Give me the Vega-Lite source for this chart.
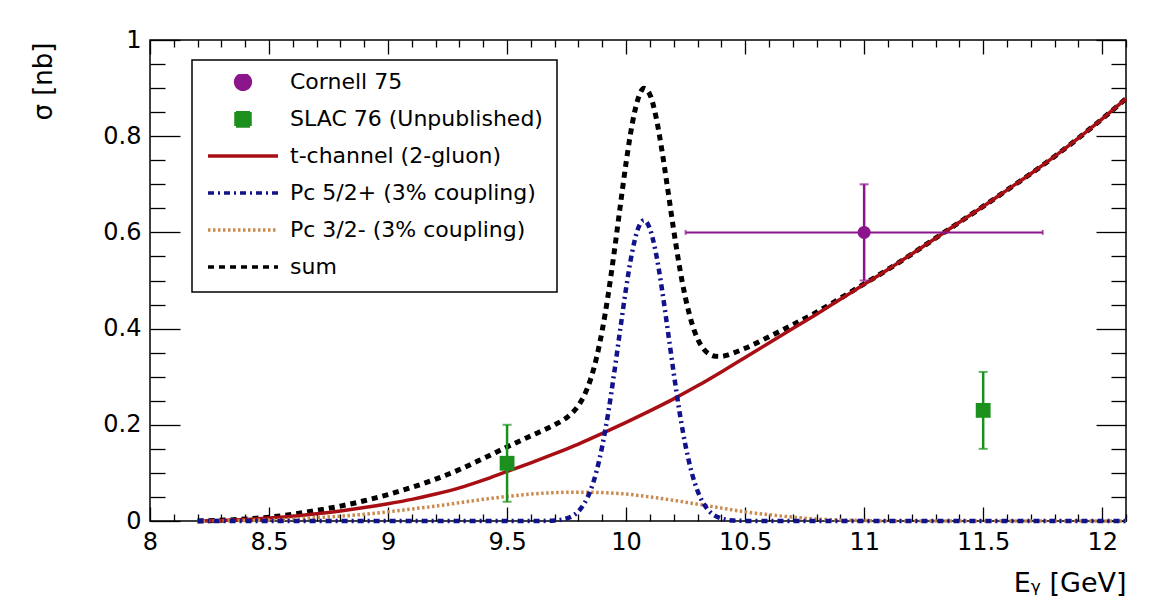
{
  "$schema": "https://vega.github.io/schema/vega-lite/v6.json",
  "width": 976,
  "height": 481,
  "autosize": {"type": "none"},
  "padding": {"left": 150, "top": 40, "right": 26, "bottom": 92},
  "background": "white",
  "config": {
    "font": "DejaVu Sans",
    "view": {"stroke": "black", "strokeWidth": 1.5},
    "axis": {
      "grid": false,
      "domain": false,
      "labelFont": "DejaVu Sans",
      "labelFontSize": 24,
      "labelColor": "black",
      "labelFlush": false,
      "labelOverlap": false,
      "tickColor": "black",
      "tickWidth": 1.3,
      "titleFont": "DejaVu Sans",
      "titleFontSize": 26,
      "titleFontWeight": "normal",
      "titleColor": "black"
    }
  },
  "resolve": {"axis": {"x": "independent", "y": "independent"}},
  "datasets": {
    "points": [
      {"series": "Cornell 75", "E": 11.0, "sigma": 0.60, "ylo": 0.50, "yhi": 0.70, "xlo": 10.25, "xhi": 11.75},
      {"series": "SLAC 76 (Unpublished)", "E": 9.5, "sigma": 0.12, "ylo": 0.04, "yhi": 0.20},
      {"series": "SLAC 76 (Unpublished)", "E": 11.5, "sigma": 0.23, "ylo": 0.15, "yhi": 0.31}
    ],
    "tchannel": [
      {"series": "t-channel (2-gluon)", "E": 8.2, "sigma": 0.000},
      {"series": "t-channel (2-gluon)", "E": 8.3, "sigma": 0.001},
      {"series": "t-channel (2-gluon)", "E": 8.4, "sigma": 0.003},
      {"series": "t-channel (2-gluon)", "E": 8.5, "sigma": 0.006},
      {"series": "t-channel (2-gluon)", "E": 8.6, "sigma": 0.010},
      {"series": "t-channel (2-gluon)", "E": 8.7, "sigma": 0.015},
      {"series": "t-channel (2-gluon)", "E": 8.8, "sigma": 0.021},
      {"series": "t-channel (2-gluon)", "E": 8.9, "sigma": 0.028},
      {"series": "t-channel (2-gluon)", "E": 9.0, "sigma": 0.036},
      {"series": "t-channel (2-gluon)", "E": 9.1, "sigma": 0.045},
      {"series": "t-channel (2-gluon)", "E": 9.2, "sigma": 0.056},
      {"series": "t-channel (2-gluon)", "E": 9.3, "sigma": 0.069},
      {"series": "t-channel (2-gluon)", "E": 9.4, "sigma": 0.085},
      {"series": "t-channel (2-gluon)", "E": 9.5, "sigma": 0.103},
      {"series": "t-channel (2-gluon)", "E": 9.6, "sigma": 0.121},
      {"series": "t-channel (2-gluon)", "E": 9.7, "sigma": 0.140},
      {"series": "t-channel (2-gluon)", "E": 9.8, "sigma": 0.160},
      {"series": "t-channel (2-gluon)", "E": 9.9, "sigma": 0.182},
      {"series": "t-channel (2-gluon)", "E": 10.0, "sigma": 0.205},
      {"series": "t-channel (2-gluon)", "E": 10.1, "sigma": 0.229},
      {"series": "t-channel (2-gluon)", "E": 10.2, "sigma": 0.254},
      {"series": "t-channel (2-gluon)", "E": 10.3, "sigma": 0.281},
      {"series": "t-channel (2-gluon)", "E": 10.4, "sigma": 0.310},
      {"series": "t-channel (2-gluon)", "E": 10.5, "sigma": 0.340},
      {"series": "t-channel (2-gluon)", "E": 10.6, "sigma": 0.370},
      {"series": "t-channel (2-gluon)", "E": 10.7, "sigma": 0.400},
      {"series": "t-channel (2-gluon)", "E": 10.8, "sigma": 0.430},
      {"series": "t-channel (2-gluon)", "E": 10.9, "sigma": 0.461},
      {"series": "t-channel (2-gluon)", "E": 11.0, "sigma": 0.492},
      {"series": "t-channel (2-gluon)", "E": 11.1, "sigma": 0.523},
      {"series": "t-channel (2-gluon)", "E": 11.2, "sigma": 0.555},
      {"series": "t-channel (2-gluon)", "E": 11.3, "sigma": 0.588},
      {"series": "t-channel (2-gluon)", "E": 11.4, "sigma": 0.621},
      {"series": "t-channel (2-gluon)", "E": 11.5, "sigma": 0.654},
      {"series": "t-channel (2-gluon)", "E": 11.6, "sigma": 0.688},
      {"series": "t-channel (2-gluon)", "E": 11.7, "sigma": 0.722},
      {"series": "t-channel (2-gluon)", "E": 11.8, "sigma": 0.758},
      {"series": "t-channel (2-gluon)", "E": 11.9, "sigma": 0.796},
      {"series": "t-channel (2-gluon)", "E": 12.0, "sigma": 0.836},
      {"series": "t-channel (2-gluon)", "E": 12.1, "sigma": 0.878}
    ],
    "pc32": [
      {"series": "Pc 3/2- (3% coupling)", "E": 8.2, "sigma": 0.0},
      {"series": "Pc 3/2- (3% coupling)", "E": 8.3, "sigma": 0.0005},
      {"series": "Pc 3/2- (3% coupling)", "E": 8.4, "sigma": 0.001},
      {"series": "Pc 3/2- (3% coupling)", "E": 8.5, "sigma": 0.002},
      {"series": "Pc 3/2- (3% coupling)", "E": 8.6, "sigma": 0.004},
      {"series": "Pc 3/2- (3% coupling)", "E": 8.7, "sigma": 0.007},
      {"series": "Pc 3/2- (3% coupling)", "E": 8.8, "sigma": 0.010},
      {"series": "Pc 3/2- (3% coupling)", "E": 8.9, "sigma": 0.014},
      {"series": "Pc 3/2- (3% coupling)", "E": 9.0, "sigma": 0.019},
      {"series": "Pc 3/2- (3% coupling)", "E": 9.1, "sigma": 0.025},
      {"series": "Pc 3/2- (3% coupling)", "E": 9.2, "sigma": 0.031},
      {"series": "Pc 3/2- (3% coupling)", "E": 9.3, "sigma": 0.038},
      {"series": "Pc 3/2- (3% coupling)", "E": 9.4, "sigma": 0.045},
      {"series": "Pc 3/2- (3% coupling)", "E": 9.5, "sigma": 0.051},
      {"series": "Pc 3/2- (3% coupling)", "E": 9.6, "sigma": 0.056},
      {"series": "Pc 3/2- (3% coupling)", "E": 9.7, "sigma": 0.059},
      {"series": "Pc 3/2- (3% coupling)", "E": 9.8, "sigma": 0.060},
      {"series": "Pc 3/2- (3% coupling)", "E": 9.9, "sigma": 0.059},
      {"series": "Pc 3/2- (3% coupling)", "E": 10.0, "sigma": 0.056},
      {"series": "Pc 3/2- (3% coupling)", "E": 10.1, "sigma": 0.050},
      {"series": "Pc 3/2- (3% coupling)", "E": 10.2, "sigma": 0.043},
      {"series": "Pc 3/2- (3% coupling)", "E": 10.3, "sigma": 0.035},
      {"series": "Pc 3/2- (3% coupling)", "E": 10.4, "sigma": 0.027},
      {"series": "Pc 3/2- (3% coupling)", "E": 10.5, "sigma": 0.019},
      {"series": "Pc 3/2- (3% coupling)", "E": 10.6, "sigma": 0.013},
      {"series": "Pc 3/2- (3% coupling)", "E": 10.7, "sigma": 0.008},
      {"series": "Pc 3/2- (3% coupling)", "E": 10.8, "sigma": 0.004},
      {"series": "Pc 3/2- (3% coupling)", "E": 10.9, "sigma": 0.002},
      {"series": "Pc 3/2- (3% coupling)", "E": 11.0, "sigma": 0.001},
      {"series": "Pc 3/2- (3% coupling)", "E": 11.1, "sigma": 0.0},
      {"series": "Pc 3/2- (3% coupling)", "E": 11.6, "sigma": 0.0},
      {"series": "Pc 3/2- (3% coupling)", "E": 12.1, "sigma": 0.0}
    ],
    "pc52": [
      {"series": "Pc 5/2+ (3% coupling)", "E": 8.2, "sigma": 0.0},
      {"series": "Pc 5/2+ (3% coupling)", "E": 9.0, "sigma": 0.0},
      {"series": "Pc 5/2+ (3% coupling)", "E": 9.6, "sigma": 0.0},
      {"series": "Pc 5/2+ (3% coupling)", "E": 9.675, "sigma": 0.0004},
      {"series": "Pc 5/2+ (3% coupling)", "E": 9.7, "sigma": 0.0011},
      {"series": "Pc 5/2+ (3% coupling)", "E": 9.725, "sigma": 0.0024},
      {"series": "Pc 5/2+ (3% coupling)", "E": 9.75, "sigma": 0.0052},
      {"series": "Pc 5/2+ (3% coupling)", "E": 9.775, "sigma": 0.0106},
      {"series": "Pc 5/2+ (3% coupling)", "E": 9.8, "sigma": 0.0202},
      {"series": "Pc 5/2+ (3% coupling)", "E": 9.825, "sigma": 0.0368},
      {"series": "Pc 5/2+ (3% coupling)", "E": 9.85, "sigma": 0.0629},
      {"series": "Pc 5/2+ (3% coupling)", "E": 9.875, "sigma": 0.102},
      {"series": "Pc 5/2+ (3% coupling)", "E": 9.9, "sigma": 0.156},
      {"series": "Pc 5/2+ (3% coupling)", "E": 9.925, "sigma": 0.225},
      {"series": "Pc 5/2+ (3% coupling)", "E": 9.95, "sigma": 0.3077},
      {"series": "Pc 5/2+ (3% coupling)", "E": 9.975, "sigma": 0.397},
      {"series": "Pc 5/2+ (3% coupling)", "E": 10.0, "sigma": 0.484},
      {"series": "Pc 5/2+ (3% coupling)", "E": 10.025, "sigma": 0.558},
      {"series": "Pc 5/2+ (3% coupling)", "E": 10.05, "sigma": 0.6075},
      {"series": "Pc 5/2+ (3% coupling)", "E": 10.075, "sigma": 0.625},
      {"series": "Pc 5/2+ (3% coupling)", "E": 10.1, "sigma": 0.6075},
      {"series": "Pc 5/2+ (3% coupling)", "E": 10.125, "sigma": 0.558},
      {"series": "Pc 5/2+ (3% coupling)", "E": 10.15, "sigma": 0.484},
      {"series": "Pc 5/2+ (3% coupling)", "E": 10.175, "sigma": 0.397},
      {"series": "Pc 5/2+ (3% coupling)", "E": 10.2, "sigma": 0.3077},
      {"series": "Pc 5/2+ (3% coupling)", "E": 10.225, "sigma": 0.225},
      {"series": "Pc 5/2+ (3% coupling)", "E": 10.25, "sigma": 0.156},
      {"series": "Pc 5/2+ (3% coupling)", "E": 10.275, "sigma": 0.102},
      {"series": "Pc 5/2+ (3% coupling)", "E": 10.3, "sigma": 0.0629},
      {"series": "Pc 5/2+ (3% coupling)", "E": 10.325, "sigma": 0.0368},
      {"series": "Pc 5/2+ (3% coupling)", "E": 10.35, "sigma": 0.0202},
      {"series": "Pc 5/2+ (3% coupling)", "E": 10.375, "sigma": 0.0106},
      {"series": "Pc 5/2+ (3% coupling)", "E": 10.4, "sigma": 0.0052},
      {"series": "Pc 5/2+ (3% coupling)", "E": 10.425, "sigma": 0.0024},
      {"series": "Pc 5/2+ (3% coupling)", "E": 10.45, "sigma": 0.0011},
      {"series": "Pc 5/2+ (3% coupling)", "E": 10.475, "sigma": 0.0004},
      {"series": "Pc 5/2+ (3% coupling)", "E": 10.55, "sigma": 0.0},
      {"series": "Pc 5/2+ (3% coupling)", "E": 11.3, "sigma": 0.0},
      {"series": "Pc 5/2+ (3% coupling)", "E": 12.1, "sigma": 0.0}
    ],
    "sum": [
      {"series": "sum", "E": 8.2, "sigma": 0.0},
      {"series": "sum", "E": 8.3, "sigma": 0.0015},
      {"series": "sum", "E": 8.4, "sigma": 0.004},
      {"series": "sum", "E": 8.5, "sigma": 0.008},
      {"series": "sum", "E": 8.6, "sigma": 0.014},
      {"series": "sum", "E": 8.7, "sigma": 0.022},
      {"series": "sum", "E": 8.8, "sigma": 0.031},
      {"series": "sum", "E": 8.9, "sigma": 0.042},
      {"series": "sum", "E": 9.0, "sigma": 0.055},
      {"series": "sum", "E": 9.1, "sigma": 0.070},
      {"series": "sum", "E": 9.2, "sigma": 0.087},
      {"series": "sum", "E": 9.3, "sigma": 0.107},
      {"series": "sum", "E": 9.4, "sigma": 0.130},
      {"series": "sum", "E": 9.5, "sigma": 0.154},
      {"series": "sum", "E": 9.6, "sigma": 0.177},
      {"series": "sum", "E": 9.675, "sigma": 0.194},
      {"series": "sum", "E": 9.7, "sigma": 0.2001},
      {"series": "sum", "E": 9.725, "sigma": 0.2067},
      {"series": "sum", "E": 9.75, "sigma": 0.2147},
      {"series": "sum", "E": 9.775, "sigma": 0.2254},
      {"series": "sum", "E": 9.8, "sigma": 0.2402},
      {"series": "sum", "E": 9.825, "sigma": 0.2621},
      {"series": "sum", "E": 9.85, "sigma": 0.2934},
      {"series": "sum", "E": 9.875, "sigma": 0.3378},
      {"series": "sum", "E": 9.9, "sigma": 0.397},
      {"series": "sum", "E": 9.925, "sigma": 0.4711},
      {"series": "sum", "E": 9.95, "sigma": 0.5587},
      {"series": "sum", "E": 9.975, "sigma": 0.6531},
      {"series": "sum", "E": 10.0, "sigma": 0.745},
      {"series": "sum", "E": 10.025, "sigma": 0.8235},
      {"series": "sum", "E": 10.05, "sigma": 0.8775},
      {"series": "sum", "E": 10.075, "sigma": 0.8995},
      {"series": "sum", "E": 10.1, "sigma": 0.8865},
      {"series": "sum", "E": 10.125, "sigma": 0.8416},
      {"series": "sum", "E": 10.15, "sigma": 0.772},
      {"series": "sum", "E": 10.175, "sigma": 0.6896},
      {"series": "sum", "E": 10.2, "sigma": 0.6047},
      {"series": "sum", "E": 10.225, "sigma": 0.5268},
      {"series": "sum", "E": 10.25, "sigma": 0.4625},
      {"series": "sum", "E": 10.275, "sigma": 0.4133},
      {"series": "sum", "E": 10.3, "sigma": 0.3789},
      {"series": "sum", "E": 10.325, "sigma": 0.3581},
      {"series": "sum", "E": 10.35, "sigma": 0.3467},
      {"series": "sum", "E": 10.375, "sigma": 0.3424},
      {"series": "sum", "E": 10.4, "sigma": 0.3422},
      {"series": "sum", "E": 10.425, "sigma": 0.3449},
      {"series": "sum", "E": 10.45, "sigma": 0.3491},
      {"series": "sum", "E": 10.475, "sigma": 0.3539},
      {"series": "sum", "E": 10.5, "sigma": 0.359},
      {"series": "sum", "E": 10.6, "sigma": 0.383},
      {"series": "sum", "E": 10.7, "sigma": 0.408},
      {"series": "sum", "E": 10.8, "sigma": 0.434},
      {"series": "sum", "E": 10.9, "sigma": 0.463},
      {"series": "sum", "E": 11.0, "sigma": 0.493},
      {"series": "sum", "E": 11.1, "sigma": 0.523},
      {"series": "sum", "E": 11.2, "sigma": 0.555},
      {"series": "sum", "E": 11.3, "sigma": 0.588},
      {"series": "sum", "E": 11.4, "sigma": 0.621},
      {"series": "sum", "E": 11.5, "sigma": 0.654},
      {"series": "sum", "E": 11.6, "sigma": 0.688},
      {"series": "sum", "E": 11.7, "sigma": 0.722},
      {"series": "sum", "E": 11.8, "sigma": 0.758},
      {"series": "sum", "E": 11.9, "sigma": 0.796},
      {"series": "sum", "E": 12.0, "sigma": 0.836},
      {"series": "sum", "E": 12.1, "sigma": 0.878}
    ]
  },
  "layer": [
    {
      "data": {"name": "sum"},
      "mark": {"type": "line", "strokeWidth": 5, "strokeDash": [6, 5], "interpolate": "monotone"},
      "encoding": {
        "x": {
          "field": "E", "type": "quantitative",
          "scale": {"domain": [8, 12.1], "nice": false, "zero": false},
          "axis": {
            "orient": "bottom",
            "values": [8, 8.5, 9, 9.5, 10, 10.5, 11, 11.5, 12],
            "format": ".1~f",
            "ticks": false,
            "labelPadding": 9,
            "title": "Eᵧ [GeV]",
            "titleFontSize": 27,
            "titleAlign": "right",
            "titleAnchor": "end",
            "titleBaseline": "middle",
            "titleX": 976,
            "titleY": 62
          }
        },
        "y": {
          "field": "sigma", "type": "quantitative",
          "scale": {"domain": [0, 1], "nice": false, "zero": false},
          "axis": {
            "orient": "left",
            "values": [0, 0.2, 0.4, 0.6, 0.8, 1],
            "format": ".1~f",
            "ticks": false,
            "labelPadding": 9,
            "title": "σ [nb]",
            "titleAngle": -90,
            "titleAlign": "right",
            "titleBaseline": "middle",
            "titleX": -107,
            "titleY": 2
          }
        },
        "color": {
          "field": "series", "type": "nominal",
          "scale": {
            "domain": ["Cornell 75", "SLAC 76 (Unpublished)", "t-channel (2-gluon)", "Pc 5/2+ (3% coupling)", "Pc 3/2- (3% coupling)", "sum"],
            "range": ["#8b168b", "#1c901c", "#a80f14", "#12128c", "#c98b4f", "#000000"]
          },
          "legend": {
            "orient": "none",
            "legendX": 42,
            "legendY": 20,
            "title": null,
            "direction": "vertical",
            "labelFont": "DejaVu Sans",
            "labelFontSize": 22,
            "labelColor": "black",
            "labelLimit": 400,
            "labelOffset": 10,
            "symbolType": "stroke",
            "symbolSize": 4900,
            "symbolStrokeWidth": 3.5,
            "clipHeight": 16,
            "rowPadding": 15,
            "padding": 14,
            "strokeColor": "black",
            "fillColor": "white",
            "encode": {
              "legend": {"update": {"strokeWidth": {"value": 1.5}}},
              "symbols": {
                "update": {
                  "shape": {"signal": "datum.value === 'Cornell 75' ? 'M-0.21,0A0.21,0.21,0,1,1,0.21,0A0.21,0.21,0,1,1,-0.21,0Z' : datum.value === 'SLAC 76 (Unpublished)' ? 'M-0.2,-0.2H0.2V0.2H-0.2Z' : 'stroke'"},
                  "fill": {"signal": "indexof(['Cornell 75', 'SLAC 76 (Unpublished)'], datum.value) >= 0 ? scale('color', datum.value) : 'transparent'"},
                  "stroke": {"signal": "indexof(['Cornell 75', 'SLAC 76 (Unpublished)'], datum.value) >= 0 ? 'transparent' : scale('color', datum.value)"},
                  "strokeDash": {"signal": "datum.value === 'sum' ? [6, 5] : datum.value === 'Pc 5/2+ (3% coupling)' ? [6, 4, 2, 4] : datum.value === 'Pc 3/2- (3% coupling)' ? [2.5, 2.5] : [1, 0]"},
                  "opacity": {"value": 1}
                }
              }
            }
          }
        }
      }
    },
    {
      "data": {"name": "tchannel"},
      "mark": {"type": "line", "strokeWidth": 3.5, "interpolate": "monotone"},
      "encoding": {
        "x": {
          "field": "E", "type": "quantitative",
          "axis": {"orient": "bottom", "values": [8, 8.5, 9, 9.5, 10, 10.5, 11, 11.5, 12], "labels": false, "tickSize": -14, "title": null}
        },
        "y": {
          "field": "sigma", "type": "quantitative",
          "axis": {"orient": "left", "values": [0, 0.2, 0.4, 0.6, 0.8, 1], "labels": false, "tickSize": -30, "title": null}
        },
        "color": {"field": "series", "type": "nominal"}
      }
    },
    {
      "data": {"name": "pc32"},
      "mark": {"type": "line", "strokeWidth": 3.5, "strokeDash": [2.5, 2.5], "interpolate": "monotone"},
      "encoding": {
        "x": {
          "field": "E", "type": "quantitative",
          "axis": {"orient": "bottom", "values": [8.1, 8.2, 8.3, 8.4, 8.6, 8.7, 8.8, 8.9, 9.1, 9.2, 9.3, 9.4, 9.6, 9.7, 9.8, 9.9, 10.1, 10.2, 10.3, 10.4, 10.6, 10.7, 10.8, 10.9, 11.1, 11.2, 11.3, 11.4, 11.6, 11.7, 11.8, 11.9, 12.1], "labels": false, "tickSize": -7, "title": null}
        },
        "y": {
          "field": "sigma", "type": "quantitative",
          "axis": {"orient": "left", "values": [0.05, 0.1, 0.15, 0.25, 0.3, 0.35, 0.45, 0.5, 0.55, 0.65, 0.7, 0.75, 0.85, 0.9, 0.95], "labels": false, "tickSize": -15, "title": null}
        },
        "color": {"field": "series", "type": "nominal"}
      }
    },
    {
      "data": {"name": "pc52"},
      "mark": {"type": "line", "strokeWidth": 4.5, "strokeDash": [6, 4, 2, 4], "interpolate": "monotone"},
      "encoding": {
        "x": {
          "field": "E", "type": "quantitative",
          "axis": {"orient": "top", "values": [8, 8.5, 9, 9.5, 10, 10.5, 11, 11.5, 12], "labels": false, "tickSize": -14, "title": null}
        },
        "y": {
          "field": "sigma", "type": "quantitative",
          "axis": {"orient": "right", "values": [0, 0.2, 0.4, 0.6, 0.8, 1], "labels": false, "tickSize": -30, "title": null}
        },
        "color": {"field": "series", "type": "nominal"}
      }
    },
    {
      "data": {"name": "points"},
      "transform": [{"filter": "datum.series === 'Cornell 75'"}],
      "mark": {"type": "rule", "strokeWidth": 2},
      "encoding": {
        "x": {
          "field": "xlo", "type": "quantitative",
          "axis": {"orient": "top", "values": [8.1, 8.2, 8.3, 8.4, 8.6, 8.7, 8.8, 8.9, 9.1, 9.2, 9.3, 9.4, 9.6, 9.7, 9.8, 9.9, 10.1, 10.2, 10.3, 10.4, 10.6, 10.7, 10.8, 10.9, 11.1, 11.2, 11.3, 11.4, 11.6, 11.7, 11.8, 11.9, 12.1], "labels": false, "tickSize": -7, "title": null}
        },
        "x2": {"field": "xhi"},
        "y": {
          "field": "sigma", "type": "quantitative",
          "axis": {"orient": "right", "values": [0.05, 0.1, 0.15, 0.25, 0.3, 0.35, 0.45, 0.5, 0.55, 0.65, 0.7, 0.75, 0.85, 0.9, 0.95], "labels": false, "tickSize": -15, "title": null}
        },
        "color": {"field": "series", "type": "nominal"}
      }
    },
    {
      "data": {"name": "points"},
      "mark": {"type": "rule", "strokeWidth": 2.5},
      "encoding": {
        "x": {"field": "E", "type": "quantitative", "axis": null},
        "y": {"field": "ylo", "type": "quantitative", "axis": null},
        "y2": {"field": "yhi"},
        "color": {"field": "series", "type": "nominal"}
      }
    },
    {
      "data": {"name": "points"},
      "transform": [{"fold": ["ylo", "yhi"], "as": ["end", "bound"]}],
      "mark": {"type": "tick", "orient": "horizontal", "size": 9, "thickness": 2},
      "encoding": {
        "x": {"field": "E", "type": "quantitative", "axis": null},
        "y": {"field": "bound", "type": "quantitative", "axis": null},
        "color": {"field": "series", "type": "nominal"}
      }
    },
    {
      "data": {"name": "points"},
      "transform": [
        {"filter": "datum.series === 'Cornell 75'"},
        {"fold": ["xlo", "xhi"], "as": ["end", "bound"]}
      ],
      "mark": {"type": "tick", "orient": "vertical", "size": 5, "thickness": 2},
      "encoding": {
        "x": {"field": "bound", "type": "quantitative", "axis": null},
        "y": {"field": "sigma", "type": "quantitative", "axis": null},
        "color": {"field": "series", "type": "nominal"}
      }
    },
    {
      "data": {"name": "points"},
      "transform": [{"filter": "datum.series === 'Cornell 75'"}],
      "mark": {"type": "point", "shape": "circle", "filled": true, "size": 170, "opacity": 1},
      "encoding": {
        "x": {"field": "E", "type": "quantitative", "axis": null},
        "y": {"field": "sigma", "type": "quantitative", "axis": null},
        "color": {"field": "series", "type": "nominal"}
      }
    },
    {
      "data": {"name": "points"},
      "transform": [{"filter": "datum.series === 'SLAC 76 (Unpublished)'"}],
      "mark": {"type": "point", "shape": "square", "filled": true, "size": 220, "opacity": 1},
      "encoding": {
        "x": {"field": "E", "type": "quantitative", "axis": null},
        "y": {"field": "sigma", "type": "quantitative", "axis": null},
        "color": {"field": "series", "type": "nominal"}
      }
    }
  ]
}
